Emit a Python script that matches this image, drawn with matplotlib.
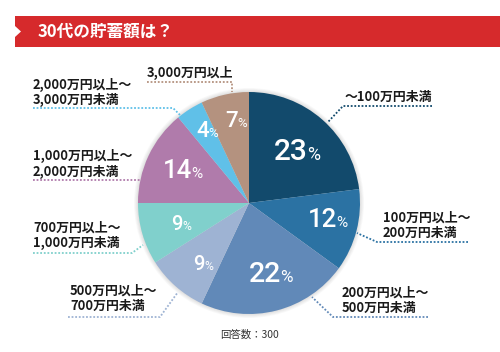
import matplotlib
matplotlib.use("Agg")
import matplotlib.pyplot as plt
from matplotlib.patches import Rectangle, Polygon, Circle

plt.rcParams['font.family'] = ['Noto Sans CJK JP', 'DejaVu Sans']

title = "30代の貯蓄額は？"
categories = ["～100万円未満",
              "100万円以上～\n200万円未満",
              "200万円以上～\n500万円未満",
              "500万円以上～\n700万円未満",
              "700万円以上～\n1,000万円未満",
              "1,000万円以上～\n2,000万円未満",
              "2,000万円以上～\n3,000万円未満",
              "3,000万円以上"]
shares = [23, 12, 22, 9, 9, 14, 4, 7]
colors = ["#124a6c", "#2b72a3", "#6189b8", "#9eb3d3",
          "#80d0cc", "#b07bab", "#60c0e8", "#b4927f"]
respondents = 300

fig = plt.figure(figsize=(5, 3.52), dpi=100)
ax = fig.add_axes([0, 0, 1, 1])

cx, cy, r = 249, 203, 111

# soft shadow round the pie
for k in range(6):
    ax.add_patch(Circle((cx, cy), r + 0.8 * k, color="black", alpha=0.025, lw=0, zorder=0))

ax.pie(shares, colors=colors, startangle=-90, counterclock=True,
       center=(cx, cy), radius=r, wedgeprops=dict(linewidth=0))

ax.set_xlim(0, 500)
ax.set_ylim(352, 0)
ax.set_aspect("equal")
ax.axis("off")

# percent labels: x where the number ends, baseline y, number size
pct_pos = [(308, 160, 21.5), (337, 227, 18.5), (281, 282, 20.5), (205, 270, 14.5),
           (183, 230, 14.5), (192, 178, 18.5), (209, 137, 16), (238, 127, 16)]
for v, (x, y, s) in zip(shares, pct_pos):
    ax.text(x, y, str(v), ha="right", va="baseline", color="white",
            fontsize=s, family="Roboto", fontweight="medium", zorder=5)
    ax.text(x - 0.5, y, "%", ha="left", va="baseline", color="white",
            fontsize=s * 0.6, family="Roboto", zorder=5)

# category labels and dotted leaders
label_pos = [(345, 97), (383, 225.5), (342, 300), (70, 298.5),
             (33, 235.5), (33, 164), (33, 92.5), (147, 73)]
leaders = [[(432, 106), (343, 106), (328, 122)],
           [(468, 242), (377, 242), (357, 233)],
           [(428, 317), (333, 317), (312, 297)],
           [(68, 317), (160, 317), (178, 292)],
           [(33, 253), (132, 253), (143, 245)],
           [(33, 180), (140, 180)],
           [(33, 108), (173, 108), (180, 115)],
           [(147, 82), (232, 82), (232, 92)]]
for cat, c, (x, y), path in zip(categories, colors, label_pos, leaders):
    ax.text(x, y, cat, ha="left", va="center", fontsize=9.3, fontweight="bold",
            color="#1a1a1a", linespacing=1.1)
    xs = [p[0] for p in path]
    ys = [p[1] for p in path]
    ax.plot(xs, ys, color=c, lw=1.3, linestyle=(0, (1, 1)), zorder=1)

# title banner
ax.add_patch(Rectangle((15, 16), 485, 31, color="#d62a2c", lw=0))
ax.add_patch(Polygon([(15, 26), (21, 31.5), (15, 37)], color="white", lw=0))
ax.text(38, 31.5, title, ha="left", va="center", color="white",
        fontsize=12, fontweight="bold")

ax.text(250, 335, "回答数：" + str(respondents), ha="center", va="center",
        fontsize=7.5, color="#333333")

fig.savefig("out.png", dpi=100)
